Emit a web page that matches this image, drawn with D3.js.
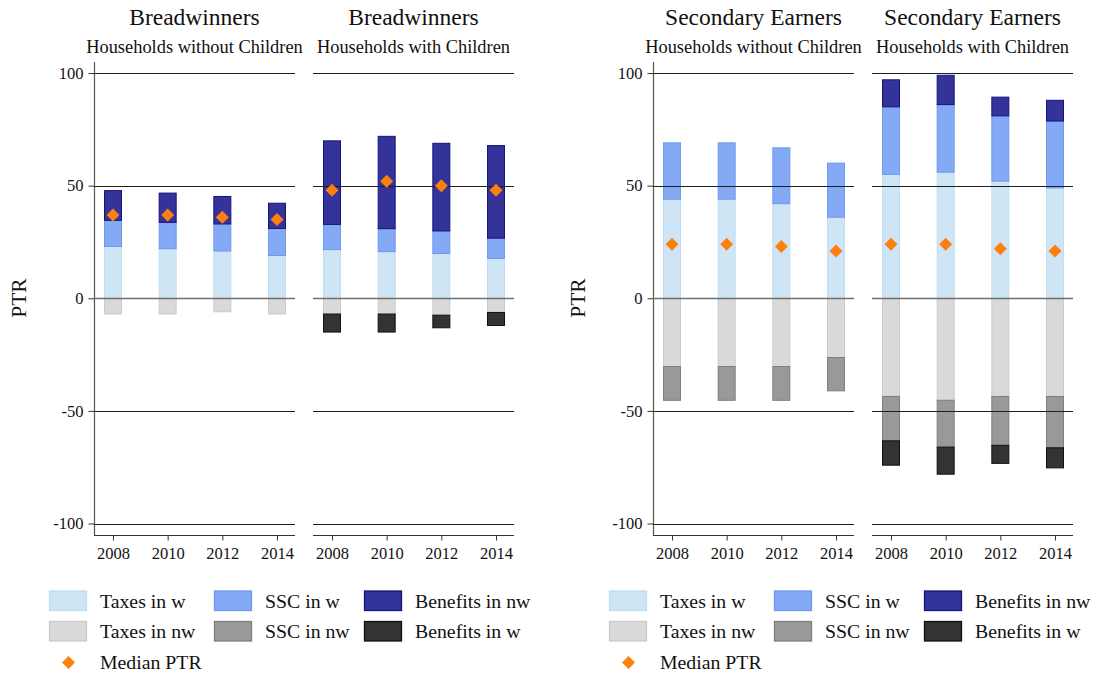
<!DOCTYPE html>
<html>
<head>
<meta charset="utf-8">
<script src="https://cdn.jsdelivr.net/npm/d3@7"></script>
<style>
body { margin: 0; background: #fff; }
svg text { font-family: "Liberation Serif", "Times New Roman", serif !important; fill: #111; }
</style>
</head>
<body>
<svg id="chart" width="1094" height="675" font-family="Liberation Serif"></svg>
<script>
// ---- data (panel order: BW no children, BW children, SE no children, SE children) ----
var years = ["2008", "2010", "2012", "2014"];
var groupTitles = ["Breadwinners", "Secondary Earners"];
var panelSubtitles = ["Households without Children", "Households with Children"];
var yTicks = [100, 50, 0, -50, -100];

var taxesInW    = [[23, 22, 21, 19], [21.6, 20.7, 19.9, 17.7], [44, 44, 42, 36], [55, 56, 52, 49]];
var sscInW      = [[11.6, 11.7, 12, 12], [11.2, 10.2, 10, 9], [25, 25, 24.8, 24], [30, 30, 29, 29.7]];
var benefitsNW  = [[13.2, 13, 12.2, 11.2], [37.1, 41, 38.9, 41.1], [0, 0, 0, 0], [12, 13, 8.3, 9.2]];
var taxesInNW   = [[-7, -7, -6, -7], [-7, -7, -7.5, -6.3], [-30.3, -30.3, -30.3, -26.3], [-43.6, -45.3, -43.6, -43.6]];
var sscInNW     = [[0, 0, 0, 0], [0, 0, 0, 0], [-15, -15, -15, -14.8], [-19.7, -20.8, -21.7, -22.8]];
var benefitsW   = [[0, 0, 0, 0], [-8, -8, -5.6, -5.8], [0, 0, 0, 0], [-10.8, -12, -8, -8.9]];
var medianPTR   = [[37, 37, 36, 35], [48, 52, 50, 48], [24, 24, 23, 21], [24, 24, 22, 21]];

var seriesKeys = ["taxesW", "sscW", "benNW", "taxesNW", "sscNW", "benW"];
var seriesNames = ["Taxes in w", "SSC in w", "Benefits in nw", "Taxes in nw", "SSC in nw", "Benefits in w"];
var seriesValues = [taxesInW, sscInW, benefitsNW, taxesInNW, sscInNW, benefitsW];
var seriesFill = ["#cde5f4", "#85aaf5", "#333399", "#d9d9d9", "#999999", "#333333"];
var seriesStroke = ["#c1def3", "#6f98ee", "#14147e", "#cbcbcb", "#7f7f7f", "#111111"];

var svg = d3.select("#chart");

var y = d3.scaleLinear().domain([-105.1, 104.9]).range([535, 62]);
var panelW = 201, panelGap = 219;
var x = d3.scalePoint().domain(years).range([19, 183]);
var barW = 17;

var stack = d3.stack().keys(seriesKeys).offset(d3.stackOffsetDiverging);
var diamond = d3.symbol(d3.symbolSquare, 84);

function drawGroup(g, gi) {
    var axisX = gi === 0 ? 94 : 653;

    // y axis line
    g.append("line")
        .attr("x1", axisX + 0.5).attr("x2", axisX + 0.5)
        .attr("y1", 62).attr("y2", 535)
        .attr("stroke", "#555").attr("stroke-width", 1.2);

    var yAxis = d3.axisLeft(y).tickValues(yTicks).tickSize(6)
        .tickFormat(function (d) { return String(d); });
    var ya = g.append("g").attr("transform", "translate(" + (axisX + 0.5) + ",0)").call(yAxis)
        .attr("font-family", null).attr("font-size", null);
    ya.select(".domain").remove();
    ya.selectAll(".tick line").attr("stroke", "#333");
    ya.selectAll(".tick text").style("font-size", "16.5px").attr("fill", "#111").attr("x", -11);

    g.append("text")
        .attr("transform", "translate(" + (axisX - 68) + ",298) rotate(-90)")
        .attr("text-anchor", "middle")
        .style("font-size", "21.5px")
        .text("PTR");

    for (var pj = 0; pj < 2; pj++) {
        var p = gi * 2 + pj;
        var px = axisX + pj * panelGap;
        var pg = g.append("g").attr("transform", "translate(" + px + ",0)");

        pg.append("text").attr("x", panelW / 2).attr("y", 25)
            .attr("text-anchor", "middle").style("font-size", "23.5px")
            .text(groupTitles[gi]);
        pg.append("text").attr("x", panelW / 2).attr("y", 53)
            .attr("text-anchor", "middle").style("font-size", "18.4px")
            .text(panelSubtitles[pj]);

        var rows = years.map(function (yr, i) {
            var r = { year: yr };
            seriesKeys.forEach(function (k, s) { r[k] = seriesValues[s][p][i]; });
            return r;
        });
        var stacked = stack(rows);

        stacked.forEach(function (layer, s) {
            pg.selectAll(".bar-" + s)
                .data(layer.filter(function (d) { return Math.abs(d[1] - d[0]) > 0.01; }))
                .enter().append("rect")
                .attr("x", function (d) { return x(d.data.year) - barW / 2; })
                .attr("y", function (d) { return y(Math.max(d[0], d[1])); })
                .attr("width", barW)
                .attr("height", function (d) { return Math.abs(y(d[0]) - y(d[1])); })
                .attr("fill", seriesFill[s])
                .attr("stroke", seriesStroke[s])
                .attr("stroke-width", 1);
        });

        // grid lines over the bars
        pg.selectAll(".grid").data(yTicks).enter().append("line")
            .attr("x1", 0).attr("x2", panelW)
            .attr("y1", function (d) { return Math.round(y(d)) + 0.5; })
            .attr("y2", function (d) { return Math.round(y(d)) + 0.5; })
            .attr("stroke", function (d) { return d === 0 ? "#707070" : "#1e1e1e"; })
            .attr("stroke-width", function (d) { return d === 0 ? 1.6 : 1.2; });

        // median markers
        pg.selectAll(".med").data(medianPTR[p]).enter().append("path")
            .attr("d", diamond())
            .attr("transform", function (d, i) {
                return "translate(" + x(years[i]) + "," + y(d) + ") rotate(45)";
            })
            .attr("fill", "#ff7f0e");

        // x axis
        var xAxis = d3.axisBottom(x).tickSize(5);
        var xa = pg.append("g").attr("transform", "translate(0,535.5)").call(xAxis)
            .attr("font-family", null).attr("font-size", null);
        xa.select(".domain").attr("d", "M0,0H" + panelW).attr("stroke", "#333").attr("stroke-width", 1.2);
        xa.selectAll(".tick line").attr("stroke", "#333");
        xa.selectAll(".tick text").style("font-size", "16.5px").attr("fill", "#111").attr("dy", "0.95em");
    }

    // legend
    var lx = gi === 0 ? 49 : 609;
    var colX = [0, 165, 315];
    var lg = g.append("g").attr("transform", "translate(" + lx + ",0)");
    seriesNames.forEach(function (name, s) {
        var row = Math.floor(s / 3), col = s % 3;
        var top = 591 + row * 30.5;
        lg.append("rect").attr("x", colX[col] + 0.5).attr("y", top)
            .attr("width", 37).attr("height", 19.5)
            .attr("fill", seriesFill[s]).attr("stroke", seriesStroke[s]).attr("stroke-width", 1.3);
        lg.append("text").attr("x", colX[col] + 51).attr("y", top + 16.5)
            .style("font-size", "19.8px").text(name);
    });
    lg.append("path")
        .attr("d", diamond())
        .attr("transform", "translate(19.5,662.5) rotate(45)")
        .attr("fill", "#ff7f0e");
    lg.append("text").attr("x", 51).attr("y", 668.5).style("font-size", "19.8px").text("Median PTR");
}

drawGroup(svg.append("g"), 0);
drawGroup(svg.append("g"), 1);
</script>
</body>
</html>
